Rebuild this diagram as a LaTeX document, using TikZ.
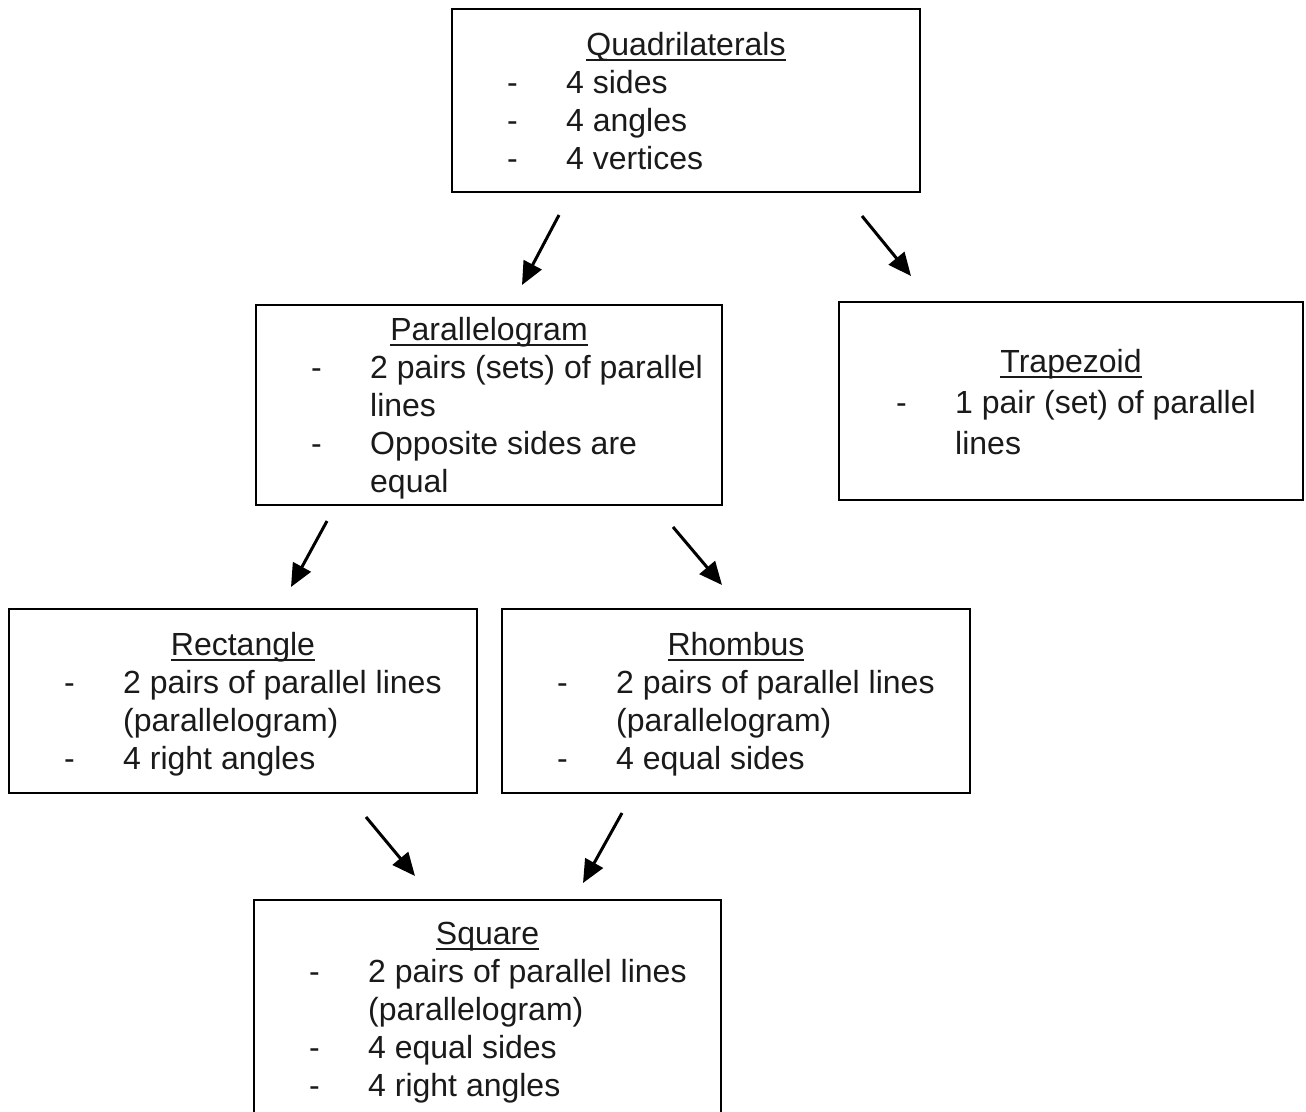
\documentclass[tikz,border=0pt]{standalone}
\usepackage{fontspec}
\setmainfont{Liberation Sans}
\usetikzlibrary{arrows.meta}
\newcommand{\boxfont}{\fontsize{32}{38}\selectfont}
\newcommand{\trapfont}{\fontsize{32}{41.5}\selectfont}
\newcommand{\uln}[1]{\setbox0\hbox{#1}\rlap{\rule[-6pt]{\wd0}{2pt}}\box0}
\definecolor{inkgray}{HTML}{1A1A1A}

\begin{document}
\begin{tikzpicture}[x=1pt, y=-1pt,
        frame/.style={rectangle, draw, line width=2pt, inner sep=0pt, minimum width=468pt},
        heading/.style={anchor=base, inner sep=0pt, font=\boxfont, text=inkgray},
        items/.style={anchor=base west, inner sep=0pt, font=\boxfont, text=inkgray},
        arrow/.style={-{Triangle[length=23pt, width=20pt]}, line width=3pt}
    ]
        \useasboundingbox (0,0) rectangle (1306,1111);
        \clip (0,0) rectangle (1306,1111);
        \fill[white] (0,0) rectangle (1306,1111);

        \node[frame, minimum height=183pt] (quad) at (686,100.5) {};
        \node[heading] (quadttl) at (686,55) {\uln{Quadrilaterals}};
        \node[items] (quadlist) at (507,93) {\begin{tabular}[t]{@{}p{59pt}@{}l@{}}
            - & 4 sides\\
            - & 4 angles\\
            - & 4 vertices
        \end{tabular}};

        \node[frame, minimum width=466pt, minimum height=200pt] (para) at (489,405) {};
        \node[heading] (parattl) at (489,340) {\uln{Parallelogram}};
        \node[items] (paralist) at (311,378) {\begin{tabular}[t]{@{}p{59pt}@{}l@{}}
            - & 2 pairs (sets) of parallel\\
              & lines\\
            - & Opposite sides are\\
              & equal
        \end{tabular}};

        \node[frame, minimum width=464pt, minimum height=198pt] (trap) at (1071,401) {};
        \node[heading] (trapttl) at (1071,372) {\uln{Trapezoid}};
        \node[items, font=\trapfont] (traplist) at (896,413) {\begin{tabular}[t]{@{}p{59pt}@{}l@{}}
            - & 1 pair (set) of parallel\\
              & lines
        \end{tabular}};

        \node[frame, minimum height=184pt] (rect) at (243,701) {};
        \node[heading] (rectttl) at (243,655) {\uln{Rectangle}};
        \node[items] (rectlist) at (64,693) {\begin{tabular}[t]{@{}p{59pt}@{}l@{}}
            - & 2 pairs of parallel lines\\
              & (parallelogram)\\
            - & 4 right angles
        \end{tabular}};

        \node[frame, minimum height=184pt] (rhom) at (736,701) {};
        \node[heading] (rhomttl) at (736,655) {\uln{Rhombus}};
        \node[items] (rhomlist) at (557,693) {\begin{tabular}[t]{@{}p{59pt}@{}l@{}}
            - & 2 pairs of parallel lines\\
              & (parallelogram)\\
            - & 4 equal sides
        \end{tabular}};

        \node[frame, minimum width=467pt, minimum height=230pt] (sqr) at (487.5,1015) {};
        \node[heading] (sqrttl) at (487.5,944) {\uln{Square}};
        \node[items] (sqrlist) at (309,982) {\begin{tabular}[t]{@{}p{59pt}@{}l@{}}
            - & 2 pairs of parallel lines\\
              & (parallelogram)\\
            - & 4 equal sides\\
            - & 4 right angles
        \end{tabular}};

        \coordinate (q2p) at (559,215);
        \coordinate (p-in) at (522,285);
        \coordinate (q2t) at (862,216);
        \coordinate (t-in) at (911,276);
        \coordinate (p2r) at (327,521);
        \coordinate (r-in) at (291,587);
        \coordinate (p2h) at (673,527);
        \coordinate (h-in) at (722,585);
        \coordinate (r2s) at (366,817);
        \coordinate (s-in1) at (415,876);
        \coordinate (h2s) at (622,813);
        \coordinate (s-in2) at (583,883);

        \draw[arrow] (q2p) -- (p-in);
        \draw[arrow] (q2t) -- (t-in);
        \draw[arrow] (p2r) -- (r-in);
        \draw[arrow] (p2h) -- (h-in);
        \draw[arrow] (r2s) -- (s-in1);
        \draw[arrow] (h2s) -- (s-in2);
    \end{tikzpicture}
\end{document}
